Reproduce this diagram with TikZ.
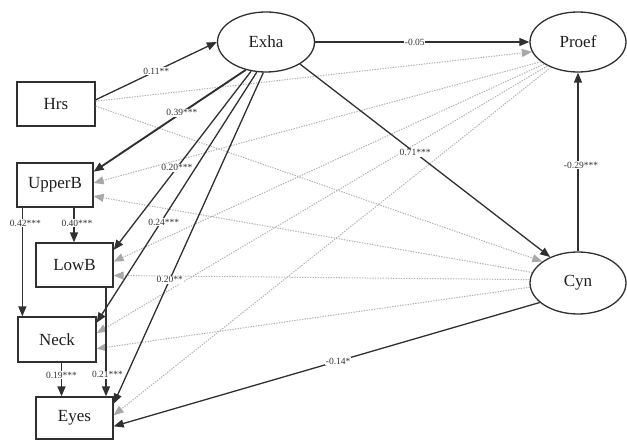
\documentclass[tikz,border=0pt]{standalone}
\usepackage{fontspec}
\setmainfont{Liberation Serif}
\usetikzlibrary{arrows.meta,shapes.geometric}
\definecolor{ink}{HTML}{303030}
\definecolor{dots}{HTML}{B0B0B0}
\definecolor{dothead}{HTML}{A8A8A8}
\begin{document}
\begin{tikzpicture}[x=1pt,y=-1pt,
  var/.style={draw=ink, line width=1.3pt, font=\fontsize{17}{20}\selectfont, text=black!88, inner sep=0pt},
  box/.style={var, rectangle, minimum height=44pt},
  lat/.style={var, ellipse, minimum width=97pt, minimum height=60pt},
  regr/.style={draw=ink, line width=1.3pt, -{Triangle[length=10pt,width=8pt]}},
  covr/.style={draw=dots, line width=1pt, dash pattern=on 1.3pt off 1.3pt, -{Triangle[length=10pt,width=8pt,color=dothead,fill=dothead]}},
  lab/.style={fill=white, inner sep=0.8pt, font=\fontsize{9.5}{10}\selectfont, text=black!80}]
\fill[white] (0,0) rectangle (627,441);
\useasboundingbox (0,0) rectangle (627,441);

% nodes
\node[box, minimum width=78pt] (hrs) at (56,104) {Hrs};
\node[box, minimum width=76pt] (upb) at (55,185) {UpperB};
\node[box, minimum width=77pt] (lowb) at (74.5,265) {LowB};
\node[box, minimum width=78pt, minimum height=45pt] (neck) at (57,339.5) {Neck};
\node[box, minimum width=77pt, minimum height=42pt] (eyes) at (74.5,418) {Eyes};
\node[lat] (exha) at (266,42) {Exha};
\node[lat, minimum width=96pt] (proef) at (578,42) {Proef};
\node[lat, minimum width=96pt, minimum height=62pt] (cyn) at (578,283) {Cyn};

% non-significant (dotted grey) paths
\draw[covr] (hrs.4) -- (proef.192);
\draw[covr] (hrs.-3) -- (cyn.149);
\draw[covr] (proef.208) -- (upb.3);
\draw[covr] (proef.213) -- (lowb.5);
\draw[covr] (proef.218) -- (neck.9);
\draw[covr] (proef.223) -- (eyes.4);
\draw[covr] (cyn.167) -- (upb.-16);
\draw[covr] (cyn.176) -- (lowb.-15);
\draw[covr] (cyn.185) -- (neck.-13);

% significant paths
\draw[regr] (hrs.6) -- node[lab, pos=0.5] {0.11**} (exha.west);
\draw[regr] (exha.east) -- node[lab, pos=0.465] {-0.05} (proef.west);
\draw[regr] (exha.-33) -- node[lab, pos=0.46] {0.71***} (cyn.137);
\draw[regr] (cyn.north) -- node[lab, pos=0.483, xshift=3pt] {-0.29***} (proef.south);
\draw[regr, line width=1.9pt] (exha.234) -- node[lab, pos=0.42] {0.39***} (upb.19);
\draw[regr] (exha.243) -- node[lab, pos=0.54] {0.20***} (lowb.21);
\draw[regr] (exha.253) -- node[lab, pos=0.60, xshift=3pt] {0.24***} (neck.23);
\draw[regr] (exha.265) -- node[lab, pos=0.625] {0.20**} (eyes.20);
\draw[regr] (cyn.207) -- node[lab, pos=0.473] {-0.14*} (eyes.-12);
\draw[regr] ([xshift=6pt]upb.south west) -- node[lab, pos=0.145, xshift=3pt] {0.42***} ([xshift=6pt]upb.south west |- neck.north);
\draw[regr] ([xshift=19pt]upb.south) -- node[lab, pos=0.44, xshift=3pt] {0.40***} ([xshift=19pt]upb.south |- lowb.north);
\draw[regr] ([xshift=4.5pt]neck.south) -- node[lab, pos=0.37] {0.19***} ([xshift=4.5pt]neck.south |- eyes.north);
\draw[regr] ([xshift=31.5pt]lowb.south) -- node[lab, pos=0.8, xshift=1.5pt] {0.21***} ([xshift=31.5pt]lowb.south |- eyes.north);
\end{tikzpicture}
\end{document}
